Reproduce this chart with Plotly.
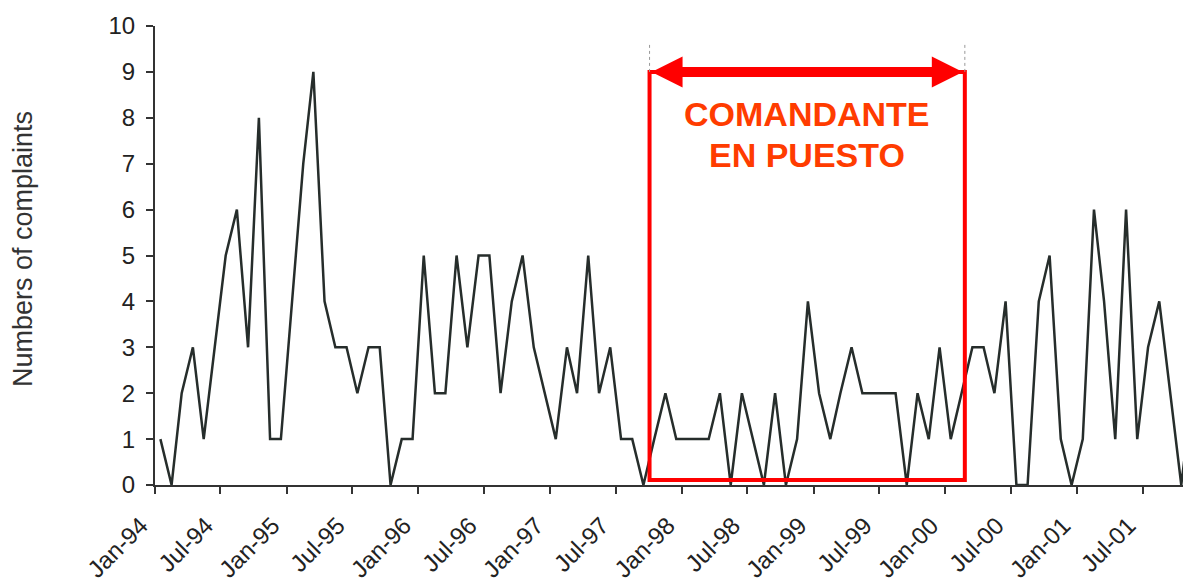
import pandas as pd
import plotly.graph_objects as go

# ---- data -------------------------------------------------------------
start_month = "1994-01-01"
complaints = [
    1, 0, 2, 3, 1, 3, 5, 6, 3, 8, 1, 1,          # 1994
    4, 7, 9, 4, 3, 3, 2, 3, 3, 0, 1, 1,          # 1995
    5, 2, 2, 5, 3, 5, 5, 2, 4, 5, 3, 2,          # 1996
    1, 3, 2, 5, 2, 3, 1, 1, 0, 1, 2, 1,          # 1997
    1, 1, 1, 2, 0, 2, 1, 0, 2, 0, 1, 4,          # 1998
    2, 1, 2, 3, 2, 2, 2, 2, 0, 2, 1, 3,          # 1999
    1, 2, 3, 3, 2, 4, 0, 0, 4, 5, 1, 0,          # 2000
    1, 6, 4, 1, 6, 1, 3, 4, 2, 0, 2,             # 2001
]
months = pd.date_range(start_month, periods=len(complaints), freq="MS") + pd.Timedelta(days=15)

# commander period (annotation)
period_start = "1997-10-03"
period_end = "2000-02-24"
period_label = ["COMANDANTE", "EN PUESTO"]
y_ticks = list(range(0, 11))

# ---- styles -----------------------------------------------------------
RED = "#ff0000"
TXT_RED = "#ff3c00"
LINE = "#262d2b"
AX = "#333333"
FONT = "Liberation Sans"

fig = go.Figure()
fig.add_trace(go.Scatter(
    x=months, y=complaints, mode="lines",
    line=dict(color=LINE, width=2.5), showlegend=False,
))

# page body adds an 8px offset; compensate so the plot lands where the reference has it
OFF = 8
W, H = 1191 - OFF, 583 - OFF
L, R, T, B = 155 - OFF, 0, 26 - OFF, 98

fig.update_layout(
    width=W, height=H,
    margin=dict(l=L, r=R, t=T, b=B, autoexpand=False),
    paper_bgcolor="white", plot_bgcolor="white",
    font=dict(family=FONT, color="#222222"),
    xaxis=dict(
        type="date", range=["1994-01-01", "2001-11-12"],
        tick0="1994-01-01", dtick="M6", tickformat="%b-%y",
        tickangle=-45, ticks="outside", ticklen=7, tickwidth=1.5, tickcolor=AX,
        showline=True, linecolor=AX, linewidth=2,
        showgrid=False, zeroline=False, automargin=False,
        tickfont=dict(size=24, family=FONT, color="#222222"),
        ticklabelstandoff=8, ticklabelshift=-14,
    ),
    yaxis=dict(
        range=[0, 10], tickvals=y_ticks,
        ticks="outside", ticklen=7, tickwidth=1.5, tickcolor=AX,
        showline=True, linecolor=AX, linewidth=2,
        showgrid=False, zeroline=False, automargin=False,
        tickfont=dict(size=24, family=FONT, color="#222222"),
        ticklabelstandoff=6,
    ),
)

# y title as annotation
fig.add_annotation(
    text="Numbers of complaints", textangle=-90,
    xref="paper", yref="paper", x=-(155 - 23) / (1191 - 155), y=0.514,
    xanchor="center", yanchor="middle", showarrow=False,
    font=dict(size=27, family=FONT, color="#333333"),
)

# red rectangle
fig.add_shape(type="rect", xref="x", yref="y",
              x0=period_start, x1=period_end, y0=0.11, y1=9,
              line=dict(color=RED, width=4), fillcolor="rgba(0,0,0,0)")

# dotted markers above the rectangle
for xd in (period_start, period_end):
    fig.add_shape(type="line", xref="x", yref="y", x0=xd, x1=xd, y0=9, y1=9.6,
                  line=dict(color="#999999", width=1, dash="dot"))

# arrow shaft
ps = pd.Timestamp(period_start)
pe = pd.Timestamp(period_end)
fig.add_shape(type="line", xref="x", yref="y",
              x0=ps + pd.Timedelta(days=60), x1=pe - pd.Timedelta(days=60), y0=9, y1=9,
              line=dict(color=RED, width=10))
# arrow heads (pixel-sized)
fig.add_shape(type="path", xref="x", yref="y", xsizemode="pixel", ysizemode="pixel",
              xanchor=period_start, yanchor=9,
              path="M 2 0 L 33 15.5 L 33 -15.5 Z", fillcolor=RED, line=dict(color=RED, width=0))
fig.add_shape(type="path", xref="x", yref="y", xsizemode="pixel", ysizemode="pixel",
              xanchor=period_end, yanchor=9,
              path="M -2 0 L -33 15.5 L -33 -15.5 Z", fillcolor=RED, line=dict(color=RED, width=0))

mid = ps + (pe - ps) / 2
for txt, yv in zip(period_label, [8.08, 7.2]):
    fig.add_annotation(text=txt, x=mid, y=yv, xref="x", yref="y", showarrow=False,
                       xanchor="center", yanchor="middle",
                       font=dict(size=34, family=FONT, color=TXT_RED, weight="bold"))

fig.write_html("out.html")
